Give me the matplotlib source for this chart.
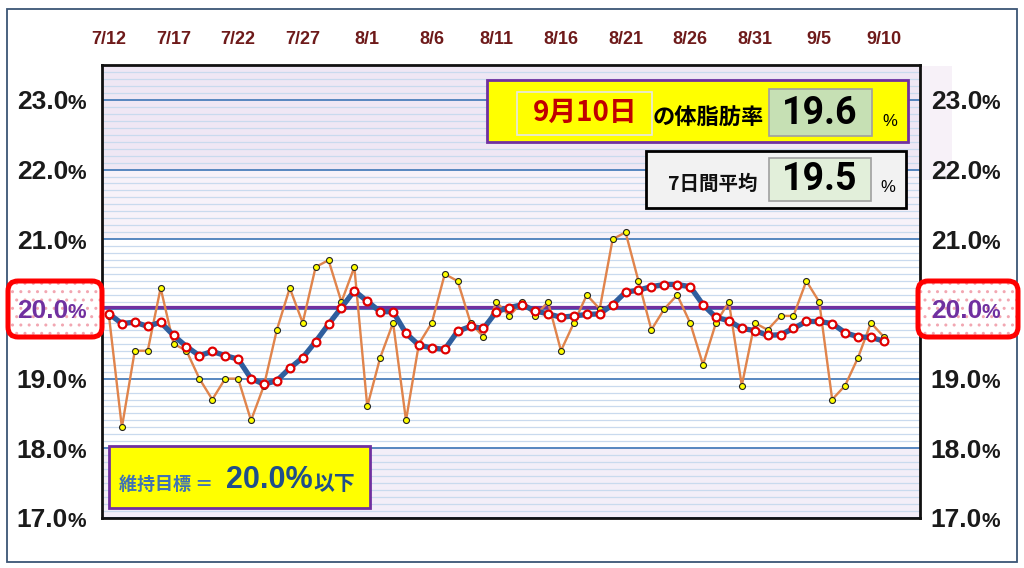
import numpy as np
import matplotlib
matplotlib.use('Agg')
import matplotlib.pyplot as plt
from matplotlib.patches import FancyBboxPatch
from matplotlib.ticker import MultipleLocator
from matplotlib.transforms import blended_transform_factory, offset_copy

# data (7/12 .. 9/10, one value per day)
date_labels = ['7/12', '7/17', '7/22', '7/27', '8/1', '8/6', '8/11',
               '8/16', '8/21', '8/26', '8/31', '9/5', '9/10']
daily = [19.9, 18.3, 19.4, 19.4, 20.3, 19.5, 19.4, 19.0, 18.7, 19.0,
         19.0, 18.4, 18.9, 19.7, 20.3, 19.8, 20.6, 20.7, 20.1, 20.6,
         18.6, 19.3, 19.8, 18.4, 19.5, 19.8, 20.5, 20.4, 19.8, 19.6,
         20.1, 19.9, 20.1, 19.9, 20.1, 19.4, 19.8, 20.2, 20.0, 21.0,
         21.1, 20.4, 19.7, 20.0, 20.2, 19.8, 19.2, 19.8, 20.1, 18.9,
         19.8, 19.7, 19.9, 19.9, 20.4, 20.1, 18.7, 18.9, 19.3, 19.8,
         19.6]
avg7 = [19.93, 19.79, 19.81, 19.75, 19.81, 19.62, 19.46, 19.33, 19.39, 19.33,
        19.28, 19.00, 18.92, 18.97, 19.15, 19.30, 19.53, 19.78, 20.02, 20.26,
        20.11, 19.96, 19.96, 19.65, 19.48, 19.44, 19.42, 19.68, 19.75, 19.72,
        19.96, 20.02, 20.06, 19.97, 19.93, 19.88, 19.90, 19.92, 19.93, 20.06,
        20.24, 20.27, 20.32, 20.35, 20.35, 20.32, 20.06, 19.88, 19.83, 19.72,
        19.69, 19.62, 19.63, 19.72, 19.82, 19.82, 19.79, 19.66, 19.60, 19.59,
        19.54]
y_labels = [17.0, 18.0, 19.0, 20.0, 21.0, 22.0, 23.0]
target = 20.0
today_text = '9月10日'
today_value = '19.6'
week_value = '19.5'

W, H = 1024, 568
fig = plt.figure(figsize=(W / 100, H / 100), dpi=100)

CJK = ['Noto Sans CJK JP', 'DejaVu Sans']
NUM = ['Liberation Sans', 'DejaVu Sans']
BIG = ['Roboto', 'DejaVu Sans']


def box(x0, y0, x1, y1, r=0, z=5, **kw):
    # pixel coords, top-left origin
    style = 'round,pad=0,rounding_size=%f' % (r / 100) if r else 'square,pad=0'
    p = FancyBboxPatch((x0 / 100, (H - y1) / 100), (x1 - x0) / 100, (y1 - y0) / 100,
                       boxstyle=style, transform=fig.dpi_scale_trans, zorder=z, **kw)
    fig.add_artist(p)
    return p


def ftext(x, y, s, **kw):
    kw.setdefault('zorder', 8)
    return fig.text(x / W, 1 - y / H, s, **kw)


# outer chart frame
box(7, 9, 1017, 562, z=-2, fc='white', ec='#3B5575', lw=1.3)
box(921, 66, 952, 180, z=-1, fc='#F7F1F8', ec='none')

ax = fig.add_axes([102 / W, 1 - 518 / H, (920 - 102) / W, (518 - 65) / H])
x = np.arange(len(daily))
ax.set_xlim(-0.54, 62.8)
ax.set_ylim(17, 23.5)

ax.axhspan(22, 23.5, color='#EFE7F4', lw=0)
ax.axhspan(21, 22, color='#F7F2F9', lw=0)
ax.axhspan(17, 18, color='#F3EEF8', lw=0)

ax.yaxis.set_major_locator(MultipleLocator(1))
ax.yaxis.set_minor_locator(MultipleLocator(0.1))
ax.grid(which='minor', axis='y', color='#C9DAEE', lw=0.9)
ax.grid(which='major', axis='y', color='#4A7EBB', lw=1.3)
ax.tick_params(which='both', length=0, labelleft=False, labelbottom=False)
ax.set_xticks([])
for sp in ax.spines.values():
    sp.set_linewidth(2)
    sp.set_color('#111111')

ax.axhline(target, color='#4A7EBB', lw=1.5, zorder=2)
ax.axhline(target + 0.025, color='#7030A0', lw=2.3, zorder=2.5)

ax.plot(x, daily, color='#E0844C', lw=1.7, marker='o', ms=4.3,
        mfc='#FFFF00', mec='#222222', mew=0.8, zorder=3)
ax.plot(x, avg7, color='#2F5E9E', lw=3.8, marker='o', ms=5.6,
        mfc='white', mec='#E00000', mew=1.6, zorder=4)

# date labels along the top
tr_top = blended_transform_factory(ax.transData, fig.transFigure)
for i, lab in enumerate(date_labels):
    ax.text(i * 5, 1 - 40 / H, lab, transform=tr_top, ha='center', va='center',
            fontsize=13, fontweight='bold', color='#6E1A1A', family=NUM)

# red boxes behind the 20.0% labels
for bx0, bx1 in [(8, 102), (918, 1018)]:
    box(bx0, 281, bx1, 337, r=10, z=5, fc='white', ec='#F2A7B2', lw=0, hatch='..')
    box(bx0, 281, bx1, 337, r=10, z=6, fc='none', ec='#FF0000', lw=3.6)

# y labels on both sides
ytr = blended_transform_factory(fig.transFigure, ax.transData)
ytr = offset_copy(ytr, fig=fig, y=-6.8, units='points')
for v in y_labels:
    col = '#7030A0' if v == target else '#1A1A1A'
    for xs in (68 / W, 982 / W):
        fig.text(xs, v, '%.1f' % v, transform=ytr, ha='right', va='baseline',
                 fontsize=19, fontweight='bold', color=col, family=NUM, zorder=8)
        fig.text(xs, v, '%', transform=ytr, ha='left', va='baseline',
                 fontsize=15, fontweight='bold', color=col, family=NUM, zorder=8)

# today's value box
box(487, 80, 908, 142, fc='#FFFF00', ec='#7030A0', lw=2)
box(517, 92, 652, 135, z=6, fc='#FFFF00', ec='#E6E6E6', lw=1.2)
ftext(585, 113, today_text, ha='center', va='center', fontsize=20,
      fontweight='bold', color='#C00000', family=CJK)
ftext(653, 118, 'の体脂肪率', ha='left', va='center', fontsize=16,
      fontweight='bold', color='black', family=CJK)
box(769, 89, 872, 136, z=6, fc='#C6E0B4', ec='#A0A0A0', lw=1.2)
ftext(820, 113, today_value, ha='center', va='center', fontsize=27,
      fontweight='bold', color='black', family=BIG)
ftext(890, 122, '%', ha='center', va='center', fontsize=12, color='black', family=NUM)

# 7-day average box
box(646, 151, 906, 208, fc='#F2F2F2', ec='black', lw=2)
ftext(668, 184, '7日間平均', ha='left', va='center', fontsize=14,
      fontweight='bold', color='#111111', family=CJK)
box(769, 158, 871, 201, z=6, fc='#E2EFDA', ec='#A0A0A0', lw=1.2)
ftext(820, 180, week_value, ha='center', va='center', fontsize=27,
      fontweight='bold', color='black', family=BIG)
ftext(888, 187, '%', ha='center', va='center', fontsize=12, color='black', family=NUM)

# target box
box(109, 446, 370, 508, fc='#FFFF00', ec='#7030A0', lw=2)
ftext(119, 484, '維持目標 ＝', ha='left', va='center', fontsize=13,
      fontweight='bold', color='#3F72B5', family=CJK)
ftext(226, 480, '20.0%', ha='left', va='center', fontsize=22,
      fontweight='bold', color='#1F4E8A', family=NUM)
ftext(313, 484, '以下', ha='left', va='center', fontsize=15,
      fontweight='bold', color='#1F4E8A', family=CJK)

fig.savefig('out.png', dpi=100)
